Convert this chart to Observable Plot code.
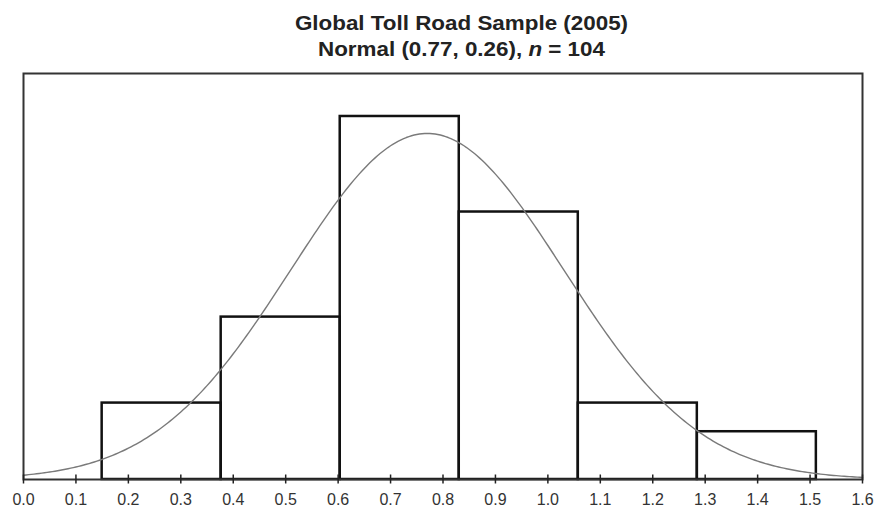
<!DOCTYPE html>
<html><head><meta charset="utf-8">
<script src="https://cdn.jsdelivr.net/npm/d3@7"></script>
<script src="https://cdn.jsdelivr.net/npm/@observablehq/plot@0.6"></script>
<style>
body{margin:0;background:#fff;width:877px;height:510px;overflow:hidden;font-family:"Liberation Sans",Arial,Helvetica,sans-serif}
#title{height:52px;padding-top:10px;line-height:26px;font-size:20px;font-weight:bold;color:#222;text-align:center;transform:translateX(23px) scaleX(1.12)}
#chart svg{display:block}
</style></head><body>
<div id="title">Global Toll Road Sample (2005)<br>Normal (0.77, 0.26), <i>n</i> = 104</div>
<div id="chart"></div>
<script>
// Histogram bins
const binStarts = [0.150, 0.377, 0.604, 0.831, 1.058, 1.285];
const binEnds   = [0.377, 0.604, 0.831, 1.058, 1.285, 1.512];
const counts    = [8, 17, 38, 28, 8, 5];
// Fitted normal parameters (from the title)
const fitMean = [0.77];
const fitSd = [0.26];
const sampleN = [104];
const xTicks = [0.0, 0.1, 0.2, 0.3, 0.4, 0.5, 0.6, 0.7, 0.8, 0.9, 1.0, 1.1, 1.2, 1.3, 1.4, 1.5, 1.6];

const bins = binStarts.map((s, i) => ({x1: s, x2: binEnds[i], count: counts[i]}));
const binWidth = binEnds[0] - binStarts[0];
const mu = fitMean[0], sd = fitSd[0], n = sampleN[0];
const curve = d3.range(0, 1.6001, 0.005).map(x => ({
  x,
  y: n * binWidth * Math.exp(-0.5 * ((x - mu) / sd) ** 2) / (sd * Math.sqrt(2 * Math.PI))
}));

const chart = Plot.plot({
  width: 877, height: 448,
  marginTop: 11, marginBottom: 31, marginLeft: 23, marginRight: 15,
  x: {domain: [0, 1.6]},
  y: {domain: [0, 42.5], axis: null},
  style: {fontFamily: "Liberation Sans, Arial, sans-serif", background: "white"},
  marks: [
    Plot.rect(bins, {x1: "x1", x2: "x2", y1: 0, y2: "count", fill: "none", stroke: "#111", strokeWidth: 2.5}),
    Plot.line(curve, {x: "x", y: "y", stroke: "#7a7a7a", strokeWidth: 1.4}),
    Plot.frame({stroke: "#333", strokeWidth: 2}),
    Plot.axisX(xTicks, {tickSize: 0, tickPadding: 14, fontSize: 16, tickFormat: d3.format(".1f"), fill: "#333"}),
    Plot.axisX(xTicks, {tickSize: 9, dy: -4.5, strokeWidth: 1.5, stroke: "#222", tickFormat: () => ""})
  ]
});
document.getElementById("chart").appendChild(chart);
</script>
</body></html>
